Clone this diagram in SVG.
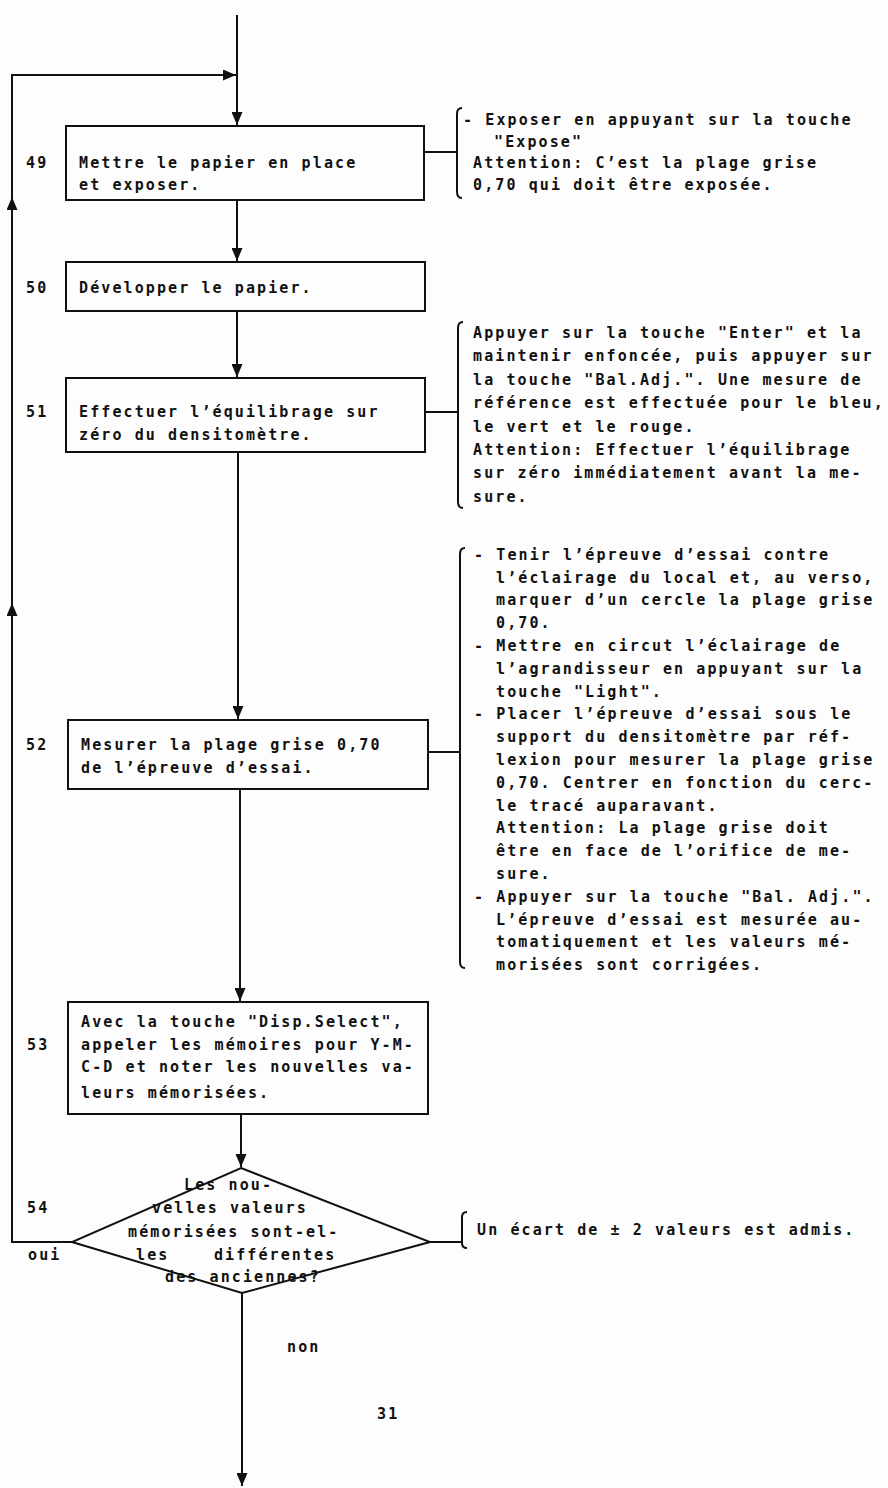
<svg xmlns="http://www.w3.org/2000/svg" width="888" height="1488" viewBox="0 0 888 1488">
<style>
.t{font-family:"DejaVu Sans Mono","Liberation Mono",monospace;font-size:15px;font-weight:bold;letter-spacing:2.1px;fill:#111}
.ln{stroke:#111;stroke-width:2;fill:none}
.box{fill:none;stroke:#111;stroke-width:2}
.br{stroke:#111;stroke-width:2;fill:none}
</style>
<defs>
<marker id="ah" viewBox="0 0 13 11" refX="13" refY="5.5" markerUnits="userSpaceOnUse" markerWidth="13" markerHeight="11" orient="auto">
<path d="M0,0 L13,5.5 L0,11 z" fill="#111"/>
</marker>
</defs>
<rect x="0" y="0" width="888" height="1488" fill="#fdfdfd"/>

<g id="connectors">
<path class="ln" d="M237,15 V125" marker-end="url(#ah)"/>
<path class="ln" d="M237,200 V261" marker-end="url(#ah)"/>
<path class="ln" d="M237,311 V377" marker-end="url(#ah)"/>
<path class="ln" d="M238,452 V719" marker-end="url(#ah)"/>
<path class="ln" d="M240,789 V1001" marker-end="url(#ah)"/>
<path class="ln" d="M241,1114 V1167" marker-end="url(#ah)"/>
<path class="ln" d="M242,1293 V1486" marker-end="url(#ah)"/>
<path class="ln" d="M72,1242 H12 V603" marker-end="url(#ah)"/>
<path class="ln" d="M12,603 V197" marker-end="url(#ah)"/>
<path class="ln" d="M12,197 V75 H236" marker-end="url(#ah)"/>
<path class="ln" d="M424,152 H457"/>
<path class="ln" d="M425,412 H458"/>
<path class="ln" d="M428,752 H460"/>
<path class="ln" d="M430,1242 H462"/>
</g>

<g id="n49">
<text class="t" x="26" y="168">49</text>
<rect class="box" x="66" y="126" width="358" height="74"/>
<text class="t" x="79" y="168">Mettre le papier en place</text>
<text class="t" x="79" y="190">et exposer.</text>
</g>

<g id="note49">
<path class="br" d="M462,108 Q457,108 457,114 V192 Q457,198 462,198"/>
<text class="t" x="463" y="125">- Exposer en appuyant sur la touche</text>
<text class="t" x="494" y="147">"Expose"</text>
<text class="t" x="473" y="168">Attention: C’est la plage grise</text>
<text class="t" x="473" y="190">0,70 qui doit être exposée.</text>
</g>

<g id="n50">
<text class="t" x="26" y="293">50</text>
<rect class="box" x="66" y="262" width="359" height="49"/>
<text class="t" x="79" y="293">Développer le papier.</text>
</g>

<g id="n51">
<text class="t" x="26" y="417">51</text>
<rect class="box" x="66" y="378" width="359" height="74"/>
<text class="t" x="79" y="417">Effectuer l’équilibrage sur</text>
<text class="t" x="79" y="440">zéro du densitomètre.</text>
</g>

<g id="note51">
<path class="br" d="M463,322 Q458,322 458,328 V502 Q458,508 463,508"/>
<text class="t" x="473" y="338">Appuyer sur la touche "Enter" et la</text>
<text class="t" x="473" y="361">maintenir enfoncée, puis appuyer sur</text>
<text class="t" x="473" y="385">la touche "Bal.Adj.". Une mesure de</text>
<text class="t" x="473" y="408">référence est effectuée pour le bleu,</text>
<text class="t" x="473" y="432">le vert et le rouge.</text>
<text class="t" x="473" y="455">Attention: Effectuer l’équilibrage</text>
<text class="t" x="473" y="478">sur zéro immédiatement avant la me-</text>
<text class="t" x="473" y="502">sure.</text>
</g>

<g id="n52">
<text class="t" x="26" y="750">52</text>
<rect class="box" x="68" y="720" width="360" height="69"/>
<text class="t" x="81" y="750">Mesurer la plage grise 0,70</text>
<text class="t" x="81" y="773">de l’épreuve d’essai.</text>
</g>

<g id="note52">
<path class="br" d="M465,548 Q460,548 460,554 V962 Q460,968 465,968"/>
<text class="t" x="474" y="560">- Tenir l’épreuve d’essai contre</text>
<text class="t" x="496" y="583">l’éclairage du local et, au verso,</text>
<text class="t" x="496" y="605">marquer d’un cercle la plage grise</text>
<text class="t" x="496" y="628">0,70.</text>
<text class="t" x="474" y="651">- Mettre en circut l’éclairage de</text>
<text class="t" x="496" y="674">l’agrandisseur en appuyant sur la</text>
<text class="t" x="496" y="697">touche "Light".</text>
<text class="t" x="474" y="719">- Placer l’épreuve d’essai sous le</text>
<text class="t" x="496" y="742">support du densitomètre par réf-</text>
<text class="t" x="496" y="765">lexion pour mesurer la plage grise</text>
<text class="t" x="496" y="788">0,70. Centrer en fonction du cerc-</text>
<text class="t" x="496" y="811">le tracé auparavant.</text>
<text class="t" x="496" y="833">Attention: La plage grise doit</text>
<text class="t" x="496" y="856">être en face de l’orifice de me-</text>
<text class="t" x="496" y="879">sure.</text>
<text class="t" x="474" y="902">- Appuyer sur la touche "Bal. Adj.".</text>
<text class="t" x="496" y="925">L’épreuve d’essai est mesurée au-</text>
<text class="t" x="496" y="947">tomatiquement et les valeurs mé-</text>
<text class="t" x="496" y="970">morisées sont corrigées.</text>
</g>

<g id="n53">
<text class="t" x="27" y="1050">53</text>
<rect class="box" x="68" y="1002" width="360" height="112"/>
<text class="t" x="81" y="1027">Avec la touche "Disp.Select",</text>
<text class="t" x="81" y="1050">appeler les mémoires pour Y-M-</text>
<text class="t" x="81" y="1072">C-D et noter les nouvelles va-</text>
<text class="t" x="81" y="1098">leurs mémorisées.</text>
</g>

<g id="n54">
<text class="t" x="27" y="1213">54</text>
<path class="box" d="M241,1168 L430,1242 L242,1293 L72,1242 Z"/>
<text class="t" x="184" y="1190">Les nou-</text>
<text class="t" x="152" y="1213">velles valeurs</text>
<text class="t" x="128" y="1237">mémorisées sont-el-</text>
<text class="t" x="136" y="1260" xml:space="preserve">les    différentes</text>
<text class="t" x="165" y="1282">des anciennes?</text>
<text class="t" x="28" y="1260">oui</text>
<text class="t" x="287" y="1352">non</text>
</g>

<g id="note54">
<path class="br" d="M467,1212 Q462,1212 462,1217 V1243 Q462,1248 467,1248"/>
<text class="t" x="477" y="1235">Un écart de ± 2 valeurs est admis.</text>
</g>

<g id="page">
<text class="t" x="377" y="1419">31</text>
</g>
</svg>
